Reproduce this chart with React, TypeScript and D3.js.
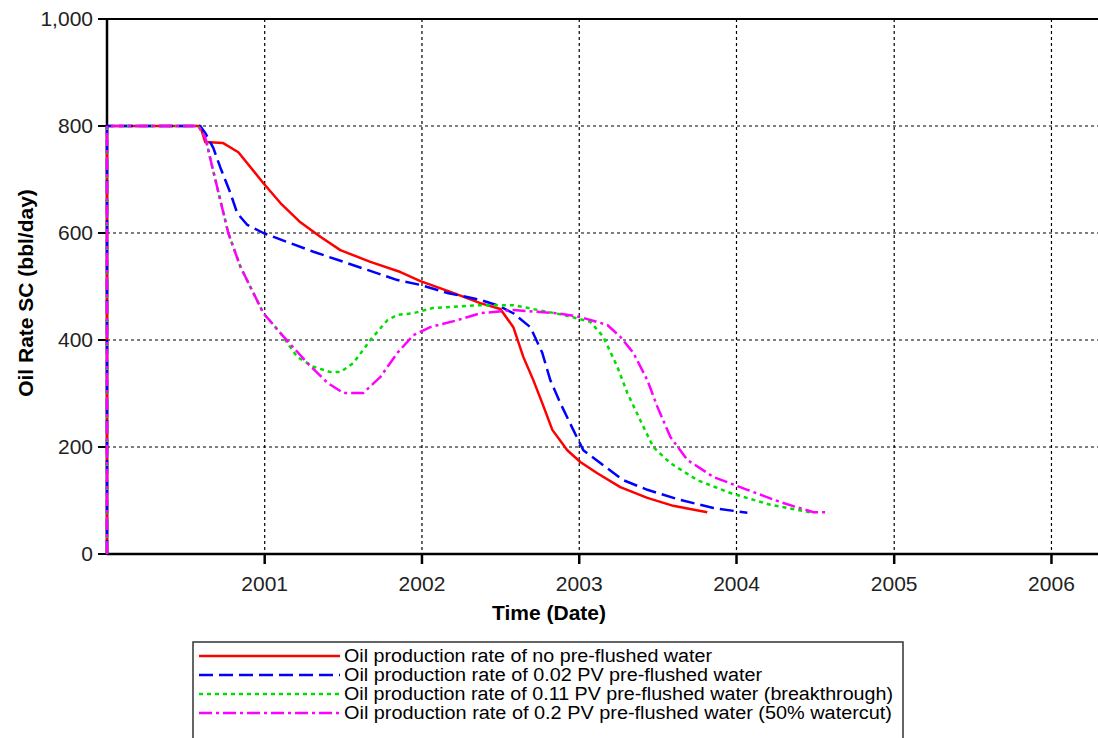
import React from "react";
import * as d3 from "d3";

// Time values are decimal years; rates are bbl/day.
const redTimes = [2000.0, 2000.0, 2000.572, 2000.591, 2000.623, 2000.737, 2000.833, 2000.992, 2001.1, 2001.227, 2001.354, 2001.481, 2001.672, 2001.863, 2001.99, 2002.181, 2002.371, 2002.498, 2002.581, 2002.645, 2002.708, 2002.765, 2002.829, 2002.924, 2003.007, 2003.115, 2003.261, 2003.433, 2003.598, 2003.814];
const redRates = [0, 800, 800, 800, 770, 768, 751, 693, 656, 620, 593, 568, 546, 527, 510, 490, 469, 458, 424, 368, 325, 282, 232, 194, 172, 151, 125, 105, 90, 78];

const blueTimes = [2000.0, 2000.0, 2000.591, 2000.623, 2000.674, 2000.718, 2000.782, 2000.826, 2000.89, 2000.992, 2001.163, 2001.31, 2001.462, 2001.653, 2001.844, 2001.99, 2002.161, 2002.371, 2002.479, 2002.581, 2002.689, 2002.765, 2002.816, 2002.88, 2002.962, 2003.026, 2003.134, 2003.28, 2003.433, 2003.643, 2003.853, 2004.069];
const blueRates = [0, 800, 800, 787, 759, 723, 675, 637, 615, 600, 581, 565, 550, 531, 512, 503, 488, 475, 465, 450, 424, 376, 325, 282, 232, 194, 170, 138, 120, 101, 86, 77];

const greenTimes = [2000.0, 2000.0, 2000.579, 2000.623, 2000.668, 2000.718, 2000.769, 2000.846, 2000.928, 2000.992, 2001.1, 2001.208, 2001.31, 2001.418, 2001.481, 2001.564, 2001.672, 2001.78, 2001.844, 2001.945, 2002.072, 2002.371, 2002.581, 2002.899, 2003.071, 2003.153, 2003.242, 2003.306, 2003.388, 2003.471, 2003.579, 2003.751, 2003.961, 2004.215, 2004.488];
const greenRates = [0, 800, 800, 779, 723, 662, 600, 537, 488, 450, 413, 368, 350, 340, 340, 357, 400, 437, 447, 450, 460, 465, 465, 447, 434, 406, 350, 301, 250, 200, 170, 138, 114, 92, 77];

const magentaTimes = [2000.0, 2000.0, 2000.579, 2000.623, 2000.668, 2000.718, 2000.769, 2000.846, 2000.928, 2000.992, 2001.1, 2001.271, 2001.399, 2001.5, 2001.627, 2001.736, 2001.844, 2001.945, 2002.053, 2002.225, 2002.371, 2002.581, 2002.861, 2003.007, 2003.179, 2003.261, 2003.344, 2003.433, 2003.497, 2003.579, 2003.687, 2003.853, 2004.069, 2004.278, 2004.488, 2004.577];
const magentaRates = [0, 800, 800, 779, 723, 662, 600, 537, 488, 450, 413, 357, 320, 301, 301, 331, 376, 409, 424, 437, 450, 456, 450, 443, 428, 406, 376, 325, 275, 219, 176, 144, 120, 97, 78, 78];

const seriesNames = [
  "Oil production rate of no pre-flushed water",
  "Oil production rate of 0.02 PV pre-flushed water",
  "Oil production rate of 0.11 PV pre-flushed water (breakthrough)",
  "Oil production rate of 0.2 PV pre-flushed water (50% watercut)",
];
// Rendered widths of the legend entries.
const legendTextWidths = [368, 418, 549, 548];

const yTicks = [0, 200, 400, 600, 800, 1000];
const xTickYears = [2001, 2002, 2003, 2004, 2005, 2006];

const W = 1098;
const H = 738;
const M = { left: 107, top: 19, right: 1098, bottom: 554 };

function yearToDate(t: number): Date {
  const yr = Math.floor(t);
  const start = new Date(yr, 0, 1).getTime();
  const end = new Date(yr + 1, 0, 1).getTime();
  return new Date(start + (t - yr) * (end - start));
}

const x = d3
  .scaleTime()
  .domain([new Date(2000, 0, 1), new Date(2006, 3, 19)])
  .range([M.left, M.right]);
const y = d3.scaleLinear().domain([0, 1000]).range([M.bottom, M.top]);

type Pt = { t: Date; v: number };
const zip = (ts: number[], vs: number[]): Pt[] => ts.map((t, i) => ({ t: yearToDate(t), v: vs[i] }));

const series = [
  { name: seriesNames[0], pts: zip(redTimes, redRates), color: "#ff0000", dash: "none" },
  { name: seriesNames[1], pts: zip(blueTimes, blueRates), color: "#0000ff", dash: "14,6" },
  { name: seriesNames[2], pts: zip(greenTimes, greenRates), color: "#00dd00", dash: "4,4" },
  { name: seriesNames[3], pts: zip(magentaTimes, magentaRates), color: "#ff00ff", dash: "13,4,3,4" },
];

const line = d3
  .line<Pt>()
  .x((d) => x(d.t))
  .y((d) => y(d.v));

const fmt = d3.format(",");

export default function App() {
  const font = "Arial, 'Liberation Sans', sans-serif";
  return (
    <svg
      width={W}
      height={H}
      style={{ position: "absolute", left: 0, top: 0, background: "#fff" }}
      fontFamily={font}
    >
      <defs>
        <clipPath id="plotClip">
          <rect x={M.left - 2} y={M.top} width={M.right - M.left + 2} height={M.bottom - M.top} />
        </clipPath>
      </defs>

      {/* grid */}
      {yTicks
        .filter((v) => v > 0 && v < 1000)
        .map((v) => (
          <line key={"gy" + v} x1={M.left} x2={M.right} y1={y(v)} y2={y(v)} stroke="#000" strokeWidth={1.2} strokeDasharray="3,3" />
        ))}
      {xTickYears.map((yr) => {
        const px = x(new Date(yr, 0, 1));
        return <line key={"gx" + yr} x1={px} x2={px} y1={M.top} y2={M.bottom} stroke="#000" strokeWidth={1.2} strokeDasharray="3,3" />;
      })}

      {/* frame */}
      <line x1={M.left} x2={M.right} y1={M.top} y2={M.top} stroke="#000" strokeWidth={2} />
      <line x1={M.left} x2={M.right} y1={M.bottom} y2={M.bottom} stroke="#000" strokeWidth={2.5} />
      <line x1={M.left} x2={M.left} y1={M.top} y2={M.bottom} stroke="#000" strokeWidth={2.5} />

      {/* y axis ticks */}
      {yTicks.map((v) => (
        <g key={"yt" + v}>
          <line x1={M.left - 9} x2={M.left} y1={y(v)} y2={y(v)} stroke="#000" strokeWidth={2} />
          <text x={M.left - 14} y={y(v)} dy="0.35em" textAnchor="end" fontSize={21} fill="#222">
            {fmt(v)}
          </text>
        </g>
      ))}

      {/* x axis ticks */}
      {xTickYears.map((yr) => {
        const px = x(new Date(yr, 0, 1));
        return (
          <g key={"xt" + yr}>
            <line x1={px} x2={px} y1={M.bottom} y2={M.bottom + 10} stroke="#000" strokeWidth={2.5} />
            <text x={px} y={591} textAnchor="middle" fontSize={21} fill="#222">
              {yr}
            </text>
          </g>
        );
      })}

      {/* axis titles */}
      <text x={549} y={620} textAnchor="middle" fontSize={21} fontWeight="bold" fill="#000">
        Time (Date)
      </text>
      <text
        transform={`translate(33,293) rotate(-90)`}
        textAnchor="middle"
        fontSize={21}
        fontWeight="bold"
        fill="#000"
      >
        Oil Rate SC (bbl/day)
      </text>

      {/* series */}
      <g clipPath="url(#plotClip)">
        {series.map((s) => (
          <path
            key={s.name}
            d={line(s.pts) || ""}
            fill="none"
            stroke={s.color}
            strokeWidth={2.5}
            strokeDasharray={s.dash}
            strokeLinejoin="round"
          />
        ))}
      </g>

      {/* legend */}
      <rect x={193} y={642} width={710} height={110} fill="#fff" stroke="#333" strokeWidth={1.5} />
      {series.map((s, i) => {
        const ly = 656 + i * 19;
        return (
          <g key={"lg" + i}>
            <line x1={199} x2={340} y1={ly} y2={ly} stroke={s.color} strokeWidth={2.5} strokeDasharray={s.dash} />
            <text
              x={344}
              y={ly}
              dy="0.36em"
              fontSize={18}
              textLength={legendTextWidths[i]}
              lengthAdjust="spacingAndGlyphs"
              fill="#000"
            >
              {s.name}
            </text>
          </g>
        );
      })}
    </svg>
  );
}
